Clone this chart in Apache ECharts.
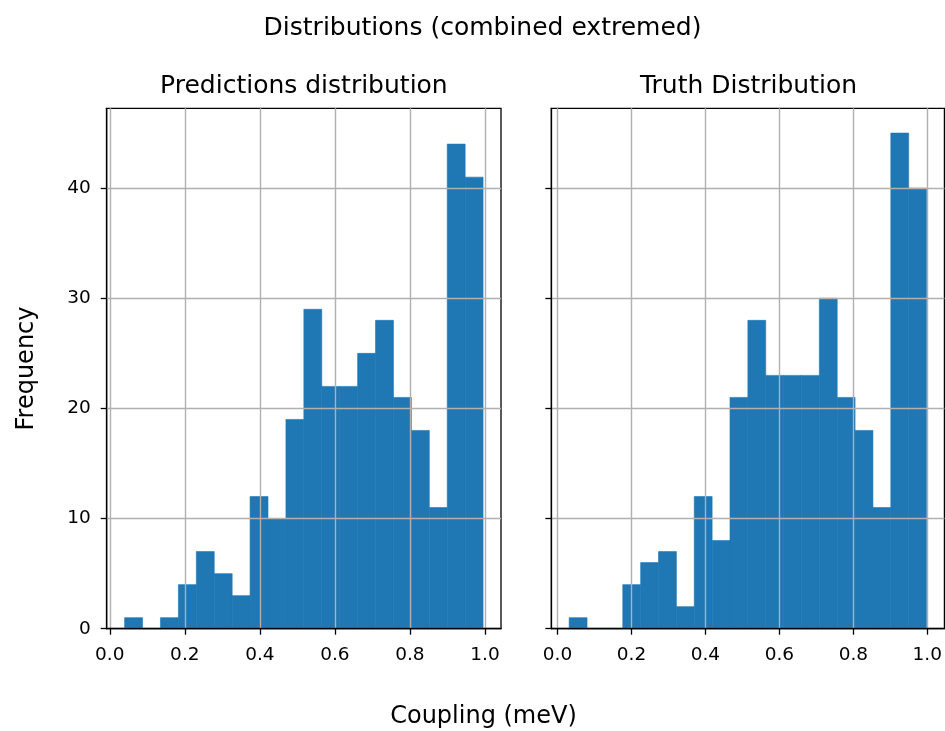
<!DOCTYPE html>
<html>
<head>
<meta charset="utf-8">
<title>Distributions (combined extremed)</title>
<script src="https://cdn.jsdelivr.net/npm/echarts@6/dist/echarts.min.js"></script>
<style>
  html, body { margin: 0; padding: 0; background: #fff; }
  #chart { width: 945px; height: 731px; }
</style>
</head>
<body>
<div id="chart"></div>
<script>
// Histogram counts per bin (20 equal-width bins each)
const predCounts  = [1, 0, 1, 4, 7, 5, 3, 12, 10, 19, 29, 22, 22, 25, 28, 21, 18, 11, 44, 41];
const truthCounts = [1, 0, 0, 4, 6, 7, 2, 12, 8, 21, 28, 23, 23, 23, 30, 21, 18, 11, 45, 40];
// Lowest and highest bin edge of each histogram
const predRange  = [0.0395, 0.995];
const truthRange = [0.0315, 0.998];
// Tick values
const xTicks = [0.0, 0.2, 0.4, 0.6, 0.8, 1.0];
const yTicks = [0, 10, 20, 30, 40];
const panelTitles = ['Predictions distribution', 'Truth Distribution'];

const FONT = 'DejaVu Sans';
const BAR = '#1f77b4';
const GRIDC = '#b0b0b0';

function toBins(counts, range) {
  const w = (range[1] - range[0]) / counts.length;
  return counts.map((c, i) => [range[0] + i * w, range[0] + (i + 1) * w, c]);
}
// 5% padding on each side of the data, like a default plot margin
function padded(range) {
  const m = 0.05 * (range[1] - range[0]);
  return [range[0] - m, range[1] + m];
}
const yMax = Math.max(...predCounts, ...truthCounts) * 1.05;

const gridBase = { top: 108.3, width: 394.3, height: 520.4 };
const grids = [
  Object.assign({ left: 106.7 }, gridBase),
  Object.assign({ left: 551.3 }, gridBase)
];

function xAxisFor(idx, range) {
  const lim = padded(range);
  return {
    type: 'value', gridIndex: idx, min: lim[0], max: lim[1], z: 5,
    axisLine: { show: true, onZero: false, lineStyle: { color: '#000', width: 1.3 } },
    axisTick: { show: true, inside: false, length: 6, customValues: xTicks,
                lineStyle: { color: '#000', width: 1.3 } },
    axisLabel: { show: true, customValues: xTicks, margin: 17,
                 fontFamily: FONT, fontSize: 18.5, color: '#000',
                 formatter: v => v.toFixed(1) },
    splitLine: { show: true, lineStyle: { color: GRIDC, width: 1.4 } }
  };
}
function yAxisFor(idx, showLabels) {
  return {
    type: 'value', gridIndex: idx, min: 0, max: yMax, z: 5,
    axisLine: { show: true, onZero: false, lineStyle: { color: '#000', width: 1.3 } },
    axisTick: { show: true, inside: false, length: 6, customValues: yTicks,
                lineStyle: { color: '#000', width: 1.3 } },
    axisLabel: { show: showLabels, customValues: yTicks, margin: 16,
                 fontFamily: FONT, fontSize: 18.5, color: '#000' },
    splitLine: { show: true, lineStyle: { color: GRIDC, width: 1.4 } },
    name: showLabels ? 'Frequency' : '',
    nameLocation: 'middle', nameRotate: 90, nameGap: 68,
    nameTextStyle: { fontFamily: FONT, fontSize: 24, color: '#000' }
  };
}

function histSeries(idx, counts, range) {
  return {
    type: 'custom', xAxisIndex: idx, yAxisIndex: idx, z: 2,
    data: toBins(counts, range),
    encode: { x: [0, 1], y: 2 },
    renderItem: function (params, api) {
      const a = api.coord([api.value(0), api.value(2)]);
      const b = api.coord([api.value(1), 0]);
      return {
        type: 'rect',
        shape: { x: a[0], y: a[1], width: b[0] - a[0], height: b[1] - a[1] },
        style: { fill: BAR, stroke: BAR, lineWidth: 0.6 }
      };
    }
  };
}

const titleStyle = { fontFamily: FONT, fontSize: 25, fontWeight: 'normal', color: '#000' };

const option = {
  animation: false,
  backgroundColor: '#fff',
  title: [
    { text: 'Distributions (combined extremed)', left: 482.5, top: 28,
      textAlign: 'center', textVerticalAlign: 'middle', padding: 0, textStyle: titleStyle },
    { text: panelTitles[0], left: 303.9, top: 86,
      textAlign: 'center', textVerticalAlign: 'middle', padding: 0, textStyle: titleStyle },
    { text: panelTitles[1], left: 748.5, top: 86,
      textAlign: 'center', textVerticalAlign: 'middle', padding: 0, textStyle: titleStyle },
    { text: 'Coupling (meV)', left: 483.5, top: 717,
      textAlign: 'center', textVerticalAlign: 'middle', padding: 0,
      textStyle: { fontFamily: FONT, fontSize: 24, fontWeight: 'normal', color: '#000' } }
  ],
  grid: grids.map(g => Object.assign({ show: true, borderColor: '#000', borderWidth: 1.3,
                                       backgroundColor: 'transparent', containLabel: false }, g)),
  xAxis: [xAxisFor(0, predRange), xAxisFor(1, truthRange)],
  yAxis: [yAxisFor(0, true), yAxisFor(1, false)],
  series: [histSeries(0, predCounts, predRange), histSeries(1, truthCounts, truthRange)]
};

const chart = echarts.init(document.getElementById('chart'), null, { renderer: 'canvas' });
chart.setOption(option);
</script>
</body>
</html>
